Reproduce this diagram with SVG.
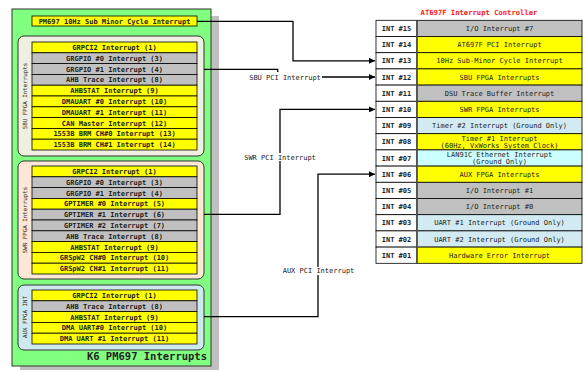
<svg xmlns="http://www.w3.org/2000/svg" width="583" height="371" viewBox="0 0 583 371">
  <defs>
    <marker id="arrow" viewBox="0 0 8 8" refX="8" refY="4" markerWidth="6" markerHeight="6" markerUnits="userSpaceOnUse" orient="auto">
      <path d="M0,0 L8,4 L0,8 z" fill="#000"/>
    </marker>
    <style>
      text { font-family: "DejaVu Sans Mono", "Liberation Mono", monospace; }
      .cell { font-size: 7px; font-weight: bold; text-anchor: middle; fill: #222; }
      .desc { font-size: 7px; text-anchor: middle; fill: #222; }
      .y { fill: #ffff00; stroke: #000; stroke-width: 0.8; }
      .g { fill: #c0c0c0; stroke: #000; stroke-width: 0.8; }
      .w { fill: #ffffff; stroke: #000; stroke-width: 0.8; }
      .lb { fill: #d2ebf2; stroke: #000; stroke-width: 0.8; }
      .cy { fill: #ccffff; stroke: #000; stroke-width: 0.8; }
      .grp { stroke: #333; stroke-width: 1; }
      .vlab { font-size: 5.8px; text-anchor: middle; fill: #222; }
      .wire { fill: none; stroke: #000; stroke-width: 1.3; }
      .clab { font-size: 7px; text-anchor: middle; fill: #222; }
    </style>
  </defs>

  <!-- K6 PM697 board -->
  <g id="pm697">
    <rect x="20" y="16" width="199" height="354" fill="#c0c0c0"/>
    <rect x="12" y="9" width="199" height="357" fill="#80ff80" stroke="#333" stroke-width="1"/>
    <text x="207" y="360" font-size="10.5" font-weight="bold" text-anchor="end" fill="#222">K6 PM697 Interrupts</text>
  </g>

  <g id="subminor">
    <rect x="32" y="16" width="165" height="10" class="y"/>
    <text x="114.5" y="23.5" class="cell">PM697 10Hz Sub Minor Cycle Interrupt</text>
  </g>

  <!-- SBU FPGA -->
  <g id="sbu">
    <rect x="18" y="36" width="186" height="120" rx="6" fill="#f0f0e2" class="grp"/>
    <text class="vlab" transform="translate(27,96) rotate(-90)">SBU FPGA Interrupts</text>
    <rect x="32" y="42" width="165" height="10.8" class="y"/>
    <rect x="32" y="52.8" width="165" height="10.8" class="g"/>
    <rect x="32" y="63.6" width="165" height="10.8" class="g"/>
    <rect x="32" y="74.4" width="165" height="10.8" class="g"/>
    <rect x="32" y="85.2" width="165" height="10.8" class="y"/>
    <rect x="32" y="96" width="165" height="10.8" class="y"/>
    <rect x="32" y="106.8" width="165" height="10.8" class="y"/>
    <rect x="32" y="117.6" width="165" height="10.8" class="y"/>
    <rect x="32" y="128.4" width="165" height="10.8" class="y"/>
    <rect x="32" y="139.2" width="165" height="10.8" class="y"/>
    <text x="114.5" y="49.9" class="cell">GRPCI2 Interrupt (1)</text>
    <text x="114.5" y="60.7" class="cell">GRGPIO #0 Interrupt (3)</text>
    <text x="114.5" y="71.5" class="cell">GRGPIO #1 Interrupt (4)</text>
    <text x="114.5" y="82.3" class="cell">AHB Trace Interrupt (8)</text>
    <text x="114.5" y="93.1" class="cell">AHBSTAT Interrupt (9)</text>
    <text x="114.5" y="103.9" class="cell">DMAUART #0 Interrupt (10)</text>
    <text x="114.5" y="114.7" class="cell">DMAUART #1 Interrupt (11)</text>
    <text x="114.5" y="125.5" class="cell">CAN Master Interrupt (12)</text>
    <text x="114.5" y="136.3" class="cell">1553B BRM CH#0 Interrupt (13)</text>
    <text x="114.5" y="147.1" class="cell">1553B BRM CH#1 Interrupt (14)</text>
  </g>

  <!-- SWR FPGA -->
  <g id="swr">
    <rect x="18" y="161" width="186" height="118" rx="6" fill="#fde8d8" class="grp"/>
    <text class="vlab" transform="translate(27,220) rotate(-90)">SWR FPGA Interrupts</text>
    <rect x="32" y="166" width="165" height="10.8" class="y"/>
    <rect x="32" y="176.8" width="165" height="10.8" class="g"/>
    <rect x="32" y="187.6" width="165" height="10.8" class="g"/>
    <rect x="32" y="198.4" width="165" height="10.8" class="y"/>
    <rect x="32" y="209.2" width="165" height="10.8" class="g"/>
    <rect x="32" y="220" width="165" height="10.8" class="g"/>
    <rect x="32" y="230.8" width="165" height="10.8" class="g"/>
    <rect x="32" y="241.6" width="165" height="10.8" class="y"/>
    <rect x="32" y="252.4" width="165" height="10.8" class="y"/>
    <rect x="32" y="263.2" width="165" height="10.8" class="y"/>
    <text x="114.5" y="173.9" class="cell">GRPCI2 Interrupt (1)</text>
    <text x="114.5" y="184.7" class="cell">GRGPIO #0 Interrupt (3)</text>
    <text x="114.5" y="195.5" class="cell">GRGPIO #1 Interrupt (4)</text>
    <text x="114.5" y="206.3" class="cell">GPTIMER #0 Interrupt (5)</text>
    <text x="114.5" y="217.1" class="cell">GPTIMER #1 Interrupt (6)</text>
    <text x="114.5" y="227.9" class="cell">GPTIMER #2 Interrupt (7)</text>
    <text x="114.5" y="238.7" class="cell">AHB Trace Interrupt (8)</text>
    <text x="114.5" y="249.5" class="cell">AHBSTAT Interrupt (9)</text>
    <text x="114.5" y="260.3" class="cell">GRSpW2 CH#0 Interrupt (10)</text>
    <text x="114.5" y="271.1" class="cell">GRSpW2 CH#1 Interrupt (11)</text>
  </g>

  <!-- AUX FPGA -->
  <g id="aux">
    <rect x="18" y="285" width="186" height="65" rx="6" fill="#cfe9f1" class="grp"/>
    <text class="vlab" transform="translate(27,317) rotate(-90)">AUX FPGA INT</text>
    <rect x="32" y="290" width="165" height="10.8" class="y"/>
    <rect x="32" y="300.8" width="165" height="10.8" class="g"/>
    <rect x="32" y="311.6" width="165" height="10.8" class="y"/>
    <rect x="32" y="322.4" width="165" height="10.8" class="y"/>
    <rect x="32" y="333.2" width="165" height="10.8" class="y"/>
    <text x="114.5" y="297.9" class="cell">GRPCI2 Interrupt (1)</text>
    <text x="114.5" y="308.7" class="cell">AHB Trace Interrupt (8)</text>
    <text x="114.5" y="319.5" class="cell">AHBSTAT Interrupt (9)</text>
    <text x="114.5" y="330.3" class="cell">DMA UART#0 Interrupt (10)</text>
    <text x="114.5" y="341.1" class="cell">DMA UART #1 Interrupt (11)</text>
  </g>

  <!-- AT697F interrupt controller -->
  <g id="at697f">
    <text x="479" y="15" font-size="7.2" font-weight="bold" text-anchor="middle" fill="#ff2020">AT697F Interrupt Controller</text>
    <rect x="376" y="20.3" width="41" height="16.2" class="w"/><rect x="417" y="20.3" width="165" height="16.2" class="g"/>
    <rect x="376" y="36.5" width="41" height="16.2" class="w"/><rect x="417" y="36.5" width="165" height="16.2" class="y"/>
    <rect x="376" y="52.7" width="41" height="16.2" class="w"/><rect x="417" y="52.7" width="165" height="16.2" class="y"/>
    <rect x="376" y="68.9" width="41" height="16.2" class="w"/><rect x="417" y="68.9" width="165" height="16.2" class="y"/>
    <rect x="376" y="85.1" width="41" height="16.2" class="w"/><rect x="417" y="85.1" width="165" height="16.2" class="g"/>
    <rect x="376" y="101.3" width="41" height="16.2" class="w"/><rect x="417" y="101.3" width="165" height="16.2" class="y"/>
    <rect x="376" y="117.5" width="41" height="16.2" class="w"/><rect x="417" y="117.5" width="165" height="16.2" class="lb"/>
    <rect x="376" y="133.7" width="41" height="16.2" class="w"/><rect x="417" y="133.7" width="165" height="16.2" class="y"/>
    <rect x="376" y="149.9" width="41" height="16.2" class="w"/><rect x="417" y="149.9" width="165" height="16.2" class="cy"/>
    <rect x="376" y="166.1" width="41" height="16.2" class="w"/><rect x="417" y="166.1" width="165" height="16.2" class="y"/>
    <rect x="376" y="182.3" width="41" height="16.2" class="w"/><rect x="417" y="182.3" width="165" height="16.2" class="g"/>
    <rect x="376" y="198.5" width="41" height="16.2" class="w"/><rect x="417" y="198.5" width="165" height="16.2" class="g"/>
    <rect x="376" y="214.7" width="41" height="16.2" class="w"/><rect x="417" y="214.7" width="165" height="16.2" class="lb"/>
    <rect x="376" y="230.9" width="41" height="16.2" class="w"/><rect x="417" y="230.9" width="165" height="16.2" class="lb"/>
    <rect x="376" y="247.1" width="41" height="16.2" class="w"/><rect x="417" y="247.1" width="165" height="16.2" class="y"/>
    <line x1="417" y1="20.3" x2="417" y2="263.3" stroke="#555" stroke-width="1.6"/>

    <text x="396.5" y="30.9" class="cell">INT #15</text>
    <text x="396.5" y="47.1" class="cell">INT #14</text>
    <text x="396.5" y="63.3" class="cell">INT #13</text>
    <text x="396.5" y="79.5" class="cell">INT #12</text>
    <text x="396.5" y="95.7" class="cell">INT #11</text>
    <text x="396.5" y="111.9" class="cell">INT #10</text>
    <text x="396.5" y="128.1" class="cell">INT #09</text>
    <text x="396.5" y="144.3" class="cell">INT #08</text>
    <text x="396.5" y="160.5" class="cell">INT #07</text>
    <text x="396.5" y="176.7" class="cell">INT #06</text>
    <text x="396.5" y="192.9" class="cell">INT #05</text>
    <text x="396.5" y="209.1" class="cell">INT #04</text>
    <text x="396.5" y="225.3" class="cell">INT #03</text>
    <text x="396.5" y="241.5" class="cell">INT #02</text>
    <text x="396.5" y="257.7" class="cell">INT #01</text>

    <text x="499.5" y="30.9" class="desc">I/O Interrupt #7</text>
    <text x="499.5" y="47.1" class="desc">AT697F  PCI Interrupt</text>
    <text x="499.5" y="63.3" class="desc">10Hz Sub-Minor Cycle Interrupt</text>
    <text x="499.5" y="79.5" class="desc">SBU FPGA Interrupts</text>
    <text x="499.5" y="95.7" class="desc">DSU Trace Buffer Interrupt</text>
    <text x="499.5" y="111.9" class="desc">SWR FPGA Interrupts</text>
    <text x="499.5" y="128.1" class="desc">Timer #2 Interrupt (Ground Only)</text>
    <text x="499.5" y="140.8" class="desc">Timer #1 Interrupt</text>
    <text x="499.5" y="148.2" class="desc">(60Hz, VxWorks System Clock)</text>
    <text x="499.5" y="157" class="desc">LAN91C Ethernet Interrupt</text>
    <text x="499.5" y="164.4" class="desc">(Ground Only)</text>
    <text x="499.5" y="176.7" class="desc">AUX FPGA Interrupts</text>
    <text x="499.5" y="192.9" class="desc">I/O Interrupt #1</text>
    <text x="499.5" y="209.1" class="desc">I/O Interrupt #0</text>
    <text x="499.5" y="225.3" class="desc">UART #1 Interrupt (Ground Only)</text>
    <text x="499.5" y="241.5" class="desc">UART #2 Interrupt (Ground Only)</text>
    <text x="499.5" y="257.7" class="desc">Hardware Error Interrupt</text>
  </g>

  <!-- Interrupt lines into the controller -->
  <g id="connectors">
    <path class="wire" d="M197,21.3 H293 V60.8 H375" marker-end="url(#arrow)"/>
    <path class="wire" d="M204,69.3 H277.7 V72"/>
    <path class="wire" d="M322,77 H375" marker-end="url(#arrow)"/>
    <text x="285" y="79.5" class="clab">SBU PCI Interrupt</text>
    <path class="wire" d="M204,214.3 H280 V109.4 H375" marker-end="url(#arrow)"/>
    <rect x="243" y="153" width="74" height="8" fill="#fff"/>
    <text x="280" y="159.5" class="clab">SWR PCI Interrupt</text>
    <path class="wire" d="M204,316.7 H318 V174.2 H375" marker-end="url(#arrow)"/>
    <rect x="281.5" y="267" width="74" height="8" fill="#fff"/>
    <text x="318.5" y="273.2" class="clab">AUX PCI Interrupt</text>
  </g>
</svg>
